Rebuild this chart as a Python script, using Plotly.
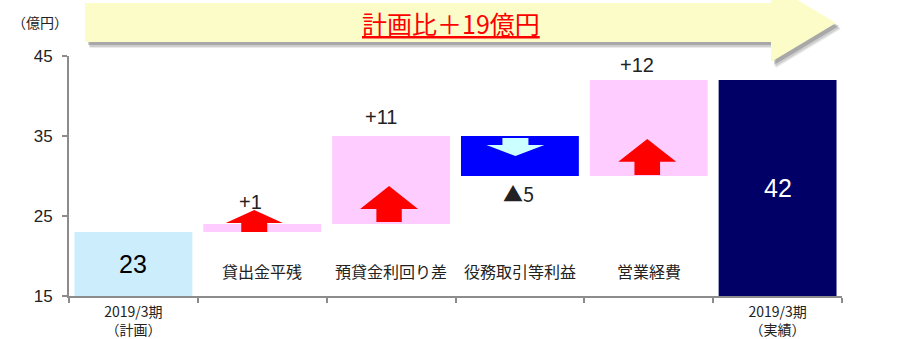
import plotly.graph_objects as go

# ---- data -------------------------------------------------------------
categories = ["2019/3期（計画）", "貸出金平残", "預貸金利回り差",
              "役務取引等利益", "営業経費", "2019/3期（実績）"]
changes = [23, 1, 11, -5, 12, 42]
measures = ["total", "delta", "delta", "delta", "delta", "total"]
value_labels = ["23", "+1", "+11", "▲5", "+12", "42"]
tick_labels = ["2019/3期<br>（計画）", "", "", "", "", "2019/3期<br>（実績）"]
y_ticks = [15, 25, 35, 45]
y_range = [15, 45]
banner_text = "計画比＋19億円"
unit_label = "（億円）"

# ---- styling ------------------------------------------------------------
bar_colors = ["#cceefc", "#ffccff", "#ffccff", "#0000ff", "#ffccff", "#000066"]
FONT = "Liberation Sans, Noto Sans CJK JP, sans-serif"
JP_FONT = "Noto Sans CJK JP, sans-serif"
TEXT = "#222222"
AXIS = "#8c8c8c"

W, H = 907, 339
M_L, M_R, M_T, M_B = 69, 65, 56, 43
PW, PH = W - M_L - M_R, H - M_T - M_B

# waterfall bases / heights
bases, heights, running = [], [], 0
for m, v in zip(measures, changes):
    if m == "total":
        bases.append(0)
        running = v
    else:
        bases.append(running)
        running += v
    heights.append(v)

fig = go.Figure(go.Bar(
    x=categories, y=heights, base=bases,
    marker=dict(color=bar_colors, line=dict(width=0)),
    hoverinfo="skip", showlegend=False,
))

annotations = []
shapes = []

# value labels: totals inside the bar, deltas above / below the block
label_shift = [None, (-12, 22), (-10, 19), (-1, -17), (-12, 15), None]
for i, (m, v, txt) in enumerate(zip(measures, changes, value_labels)):
    if m == "total":
        annotations.append(dict(
            x=categories[i], y=(y_range[0] + v) / 2, xref="x", yref="y",
            text=txt, showarrow=False, yanchor="middle",
            font=dict(size=25, family=FONT,
                      color="#ffffff" if i == len(changes) - 1 else "#000000")))
    else:
        dx, dy = label_shift[i]
        anchor_y = bases[i] + v
        annotations.append(dict(
            x=categories[i], y=anchor_y, xref="x", yref="y",
            text=txt, showarrow=False, yanchor="middle",
            xshift=dx, yshift=dy,
            font=dict(size=20, family=JP_FONT if v < 0 else FONT, color=TEXT)))
        # item name near the base line
        annotations.append(dict(
            x=categories[i], y=y_range[0], xref="x", yref="y",
            text=categories[i], showarrow=False, yanchor="middle",
            yshift=25, font=dict(size=16, family=JP_FONT, color=TEXT)))

# block arrows drawn inside each delta bar (pixel geometry, anchored at bar base)
arrow_geo = [None,
             (-8, 0, 9, 22, 13, 28.5),
             (-2, 2, 15, 38, 12.7, 29),
             (-4.5, -2, -9, -20, 13, 29),
             (-1.5, 1, 14.3, 37, 12.8, 29),
             None]


def arrow_path(dx, y0, yh, yt, sw, hw):
    return (f"M{dx - sw},{y0} L{dx + sw},{y0} L{dx + sw},{yh} L{dx + hw},{yh} "
            f"L{dx},{yt} L{dx - hw},{yh} L{dx - sw},{yh} Z")


for i, g in enumerate(arrow_geo):
    if g is None:
        continue
    color = "#ff0000" if changes[i] > 0 else "#ccffff"
    shapes.append(dict(
        type="path", xref="x", yref="y",
        xsizemode="pixel", ysizemode="pixel",
        xanchor=i, yanchor=bases[i],
        path=arrow_path(*g),
        fillcolor=color, line=dict(width=0), layer="above"))


# banner arrow across the top (pixel layout converted to paper coords)
def px(x):
    return (x - M_L) / PW


def py(y):
    return (H - M_B - y) / PH


def banner_path(ox=0.0, oy=0.0):
    pts = [(85, 3), (771, 3), (771, -16), (836, 23), (771, 62), (771, 42), (85, 42)]
    return "M" + " L".join(f"{px(x + ox):.5f},{py(y + oy):.5f}" for x, y in pts) + " Z"


for (ox, oy, a) in [(5, 6, 0.08), (4, 5, 0.12), (3, 3, 0.18)]:
    shapes.append(dict(type="path", xref="paper", yref="paper",
                       path=banner_path(ox, oy), fillcolor=f"rgba(0,0,0,{a})",
                       line=dict(width=0), layer="below"))
shapes.append(dict(type="path", xref="paper", yref="paper",
                   path=banner_path(), fillcolor="#fcfcc8",
                   line=dict(width=0), layer="below"))

annotations.append(dict(
    x=px(451), y=py(23), xref="paper", yref="paper",
    xanchor="center", yanchor="middle",
    text=f"<u>{banner_text}</u>", showarrow=False,
    font=dict(size=25, family=JP_FONT, color="#ff0000")))
annotations.append(dict(
    x=px(40), y=py(22), xref="paper", yref="paper",
    xanchor="center", yanchor="middle",
    text=unit_label, showarrow=False,
    font=dict(size=14, family=JP_FONT, color=TEXT)))

fig.update_layout(
    width=W, height=H,
    margin=dict(l=M_L, r=M_R, t=M_T, b=M_B, pad=0, autoexpand=False),
    paper_bgcolor="white", plot_bgcolor="white",
    bargap=0.085,
    shapes=shapes, annotations=annotations,
    font=dict(family=FONT, color=TEXT),
)
fig.update_xaxes(
    type="category", range=[-0.5, len(categories) - 0.5], automargin=False,
    tickmode="array", tickvals=categories, ticktext=tick_labels,
    tickson="boundaries", ticks="outside", ticklen=5, tickwidth=2, tickcolor=AXIS,
    ticklabelstandoff=2,
    showline=True, linecolor=AXIS, linewidth=2, showgrid=False, zeroline=False,
    tickfont=dict(size=14, family=JP_FONT, color=TEXT),
)
fig.update_yaxes(
    range=y_range, tickmode="array", tickvals=y_ticks, automargin=False,
    ticks="outside", ticklen=5, tickwidth=2, tickcolor=AXIS, ticklabelstandoff=6,
    showline=True, linecolor=AXIS, linewidth=2, showgrid=False, zeroline=False,
    tickfont=dict(size=17, family=FONT, color=TEXT),
)

fig.write_html("out.html")
